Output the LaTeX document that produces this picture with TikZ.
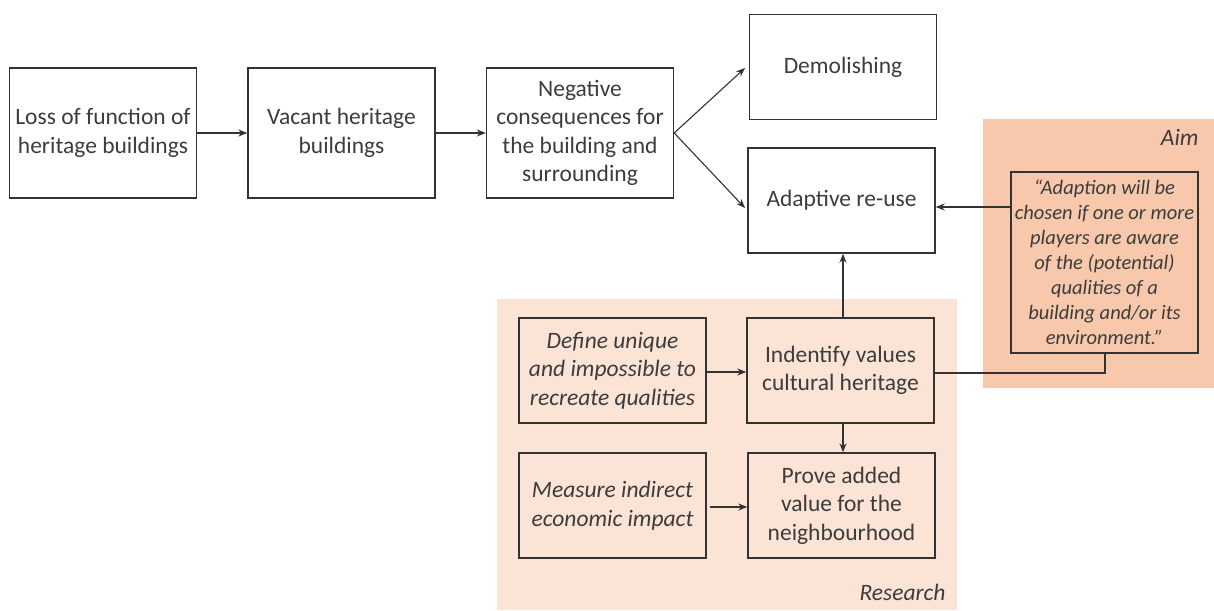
\documentclass[tikz,border=0pt]{standalone}
\usepackage{fontspec}
\setmainfont{Carlito}
\usetikzlibrary{arrows.meta}
\definecolor{linegray}{HTML}{333333}
\definecolor{textgray}{HTML}{3C3C3C}
\definecolor{researchbg}{HTML}{FBE3D6}
\definecolor{aimbg}{HTML}{F7C8AB}
\begin{document}
\begin{tikzpicture}[x=1pt,y=-1pt,
  every node/.style={font=\fontsize{23.5}{28.5}\selectfont, text=textgray},
  flowbox/.style={draw=linegray, line width=1.4pt, minimum width=187pt, align=center, inner sep=0pt},
  tallbox/.style={flowbox, minimum height=130pt},
  midbox/.style={flowbox, minimum height=105pt},
  note/.style={font=\fontsize{23.5}{28.5}\selectfont\itshape},
  conn/.style={draw=linegray, line width=1.1pt},
  arr/.style={conn, -{Stealth[length=9pt,width=7pt]}}
]
\useasboundingbox (0,0) rectangle (1214,610);

% shaded areas
\fill[researchbg] (497,299) rectangle (957,610);
\fill[aimbg] (983,119) rectangle (1214,388);
\node[note, anchor=east] (research) at (949,592) {Research};
\node[note, anchor=east] (aim) at (1202,137) {Aim};

% top row
\node[tallbox] (loss) at (103,133) {Loss of function of\\heritage buildings};
\node[tallbox] (vacant) at (341.5,133) {Vacant heritage\\buildings};
\node[tallbox] (neg) at (580,133) {Negative\\consequences for\\the building and\\surrounding};
\node[midbox] (demol) at (843,67) {Demolishing};
\node[midbox] (adapt) at (841.5,200.5) {Adaptive re-use};

% research area
\node[midbox, note] (define) at (612.5,370.5) {Define unique\\and impossible to\\recreate qualities};
\node[midbox] (identify) at (840.5,370.5) {Indentify values\\cultural heritage};
\node[midbox, note] (measure) at (612.5,505.5) {Measure indirect\\economic impact};
\node[midbox] (prove) at (841.5,505.5) {Prove added\\value for the\\neighbourhood};

% aim quote
\node[flowbox, minimum width=187pt, minimum height=181pt, font=\fontsize{20.5}{25}\selectfont\itshape] (quote) at (1104.5,262.5)
  {“Adaption will be\\chosen if one or more\\players are aware\\of the (potential)\\qualities of a\\building and/or its\\environment.”};

% connectors
\draw[arr] (loss.east) -- (vacant.west);
\draw[arr] (vacant.east) -- (neg.west);
\coordinate (fork) at (neg.east);
\coordinate (demolin) at (745,68);
\coordinate (adaptin) at (745,208);
\draw[arr] (fork) -- (demolin);
\draw[arr] (fork) -- (adaptin);
\draw[arr] (identify.north -| 843,0) -- (adapt.south -| 843,0);
\draw[arr] (quote.west |- 0,207) -- (adapt.east |- 0,207);
\draw[conn] (identify.east |- 0,373) -- (1105,373) -- (quote.south -| 1105,0);
\draw[arr] (define.east |- 0,372) -- (identify.west |- 0,372);
\draw[arr] (identify.south -| 843,0) -- (prove.north -| 843,0);
\draw[arr] ([xshift=3pt]measure.east |- 0,507) -- (prove.west |- 0,507);
\end{tikzpicture}
\end{document}
